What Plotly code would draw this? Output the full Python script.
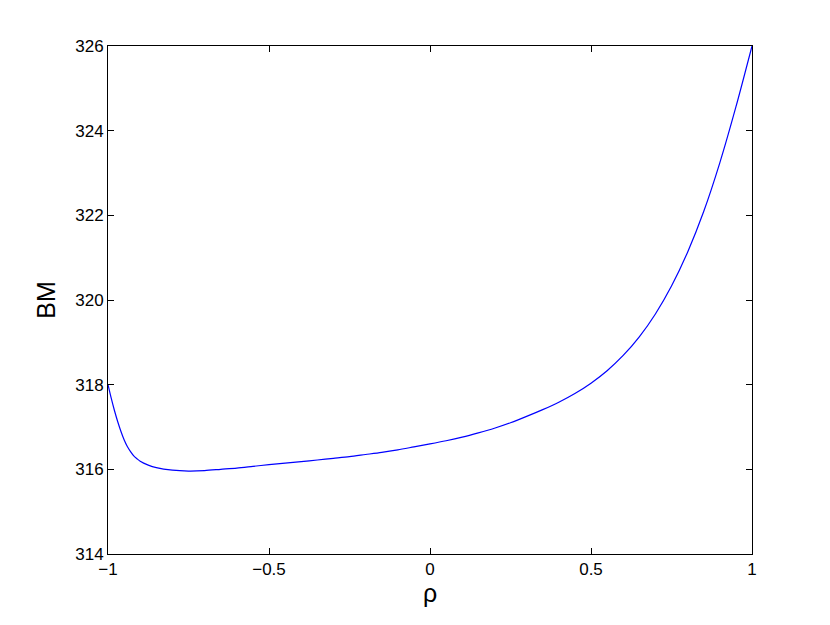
import plotly.graph_objects as go

rho = [-1.0, -0.99, -0.98, -0.97, -0.96, -0.95, -0.94, -0.93, -0.92, -0.91, -0.9,
       -0.875, -0.85, -0.8, -0.75, -0.7, -0.65, -0.6, -0.55, -0.5, -0.45, -0.4, -0.35,
       -0.3, -0.25, -0.2, -0.15, -0.1, -0.05, 0.0, 0.05, 0.1, 0.15, 0.2, 0.25, 0.3,
       0.35, 0.4, 0.45, 0.5, 0.55, 0.6, 0.65, 0.7, 0.75, 0.8, 0.85, 0.9, 0.95, 1.0]
bm = [318.00, 317.68, 317.39, 317.13, 316.90, 316.70, 316.54, 316.42, 316.32, 316.25, 316.19,
      316.10, 316.04, 315.98, 315.96, 315.97, 316.00, 316.03, 316.07, 316.11, 316.145, 316.18,
      316.22, 316.26, 316.30, 316.35, 316.40, 316.46, 316.53, 316.60, 316.675, 316.76,
      316.86, 316.97, 317.10, 317.25, 317.41, 317.585, 317.79, 318.035, 318.33, 318.69,
      319.13, 319.67, 320.33, 321.13, 322.09, 323.24, 324.56, 326.00]

x_ticks = [-1, -0.5, 0, 0.5, 1]
x_tick_labels = ["\u22121", "\u22120.5", "0", "0.5", "1"]
y_ticks = [314, 316, 318, 320, 322, 324, 326]

FONT = "Liberation Sans, Arial, sans-serif"

fig = go.Figure()
fig.add_trace(go.Scatter(x=rho, y=bm, mode="lines",
                         line=dict(color="#0000ff", width=1.2, shape="spline", smoothing=0.8),
                         showlegend=False, hoverinfo="skip"))

axis_common = dict(showgrid=False, zeroline=False, showline=True, linecolor="black",
                   linewidth=1, mirror="ticks", ticks="inside", ticklen=6,
                   tickcolor="black", tickwidth=1,
                   tickfont=dict(family=FONT, size=17, color="black"))

fig.update_layout(
    width=830, height=625,
    margin=dict(l=100, r=86, t=38, b=79),
    paper_bgcolor="white", plot_bgcolor="white",
    xaxis=dict(range=[-1, 1], tickvals=x_ticks, ticktext=x_tick_labels,
               title=dict(text="\u03c1", font=dict(family=FONT, size=25, color="black"), standoff=6),
               **axis_common),
    yaxis=dict(range=[314, 326], tickvals=y_ticks,
               title=dict(text="BM", font=dict(family=FONT, size=25, color="black"), standoff=12),
               **axis_common),
)

fig.write_html("out.html")
